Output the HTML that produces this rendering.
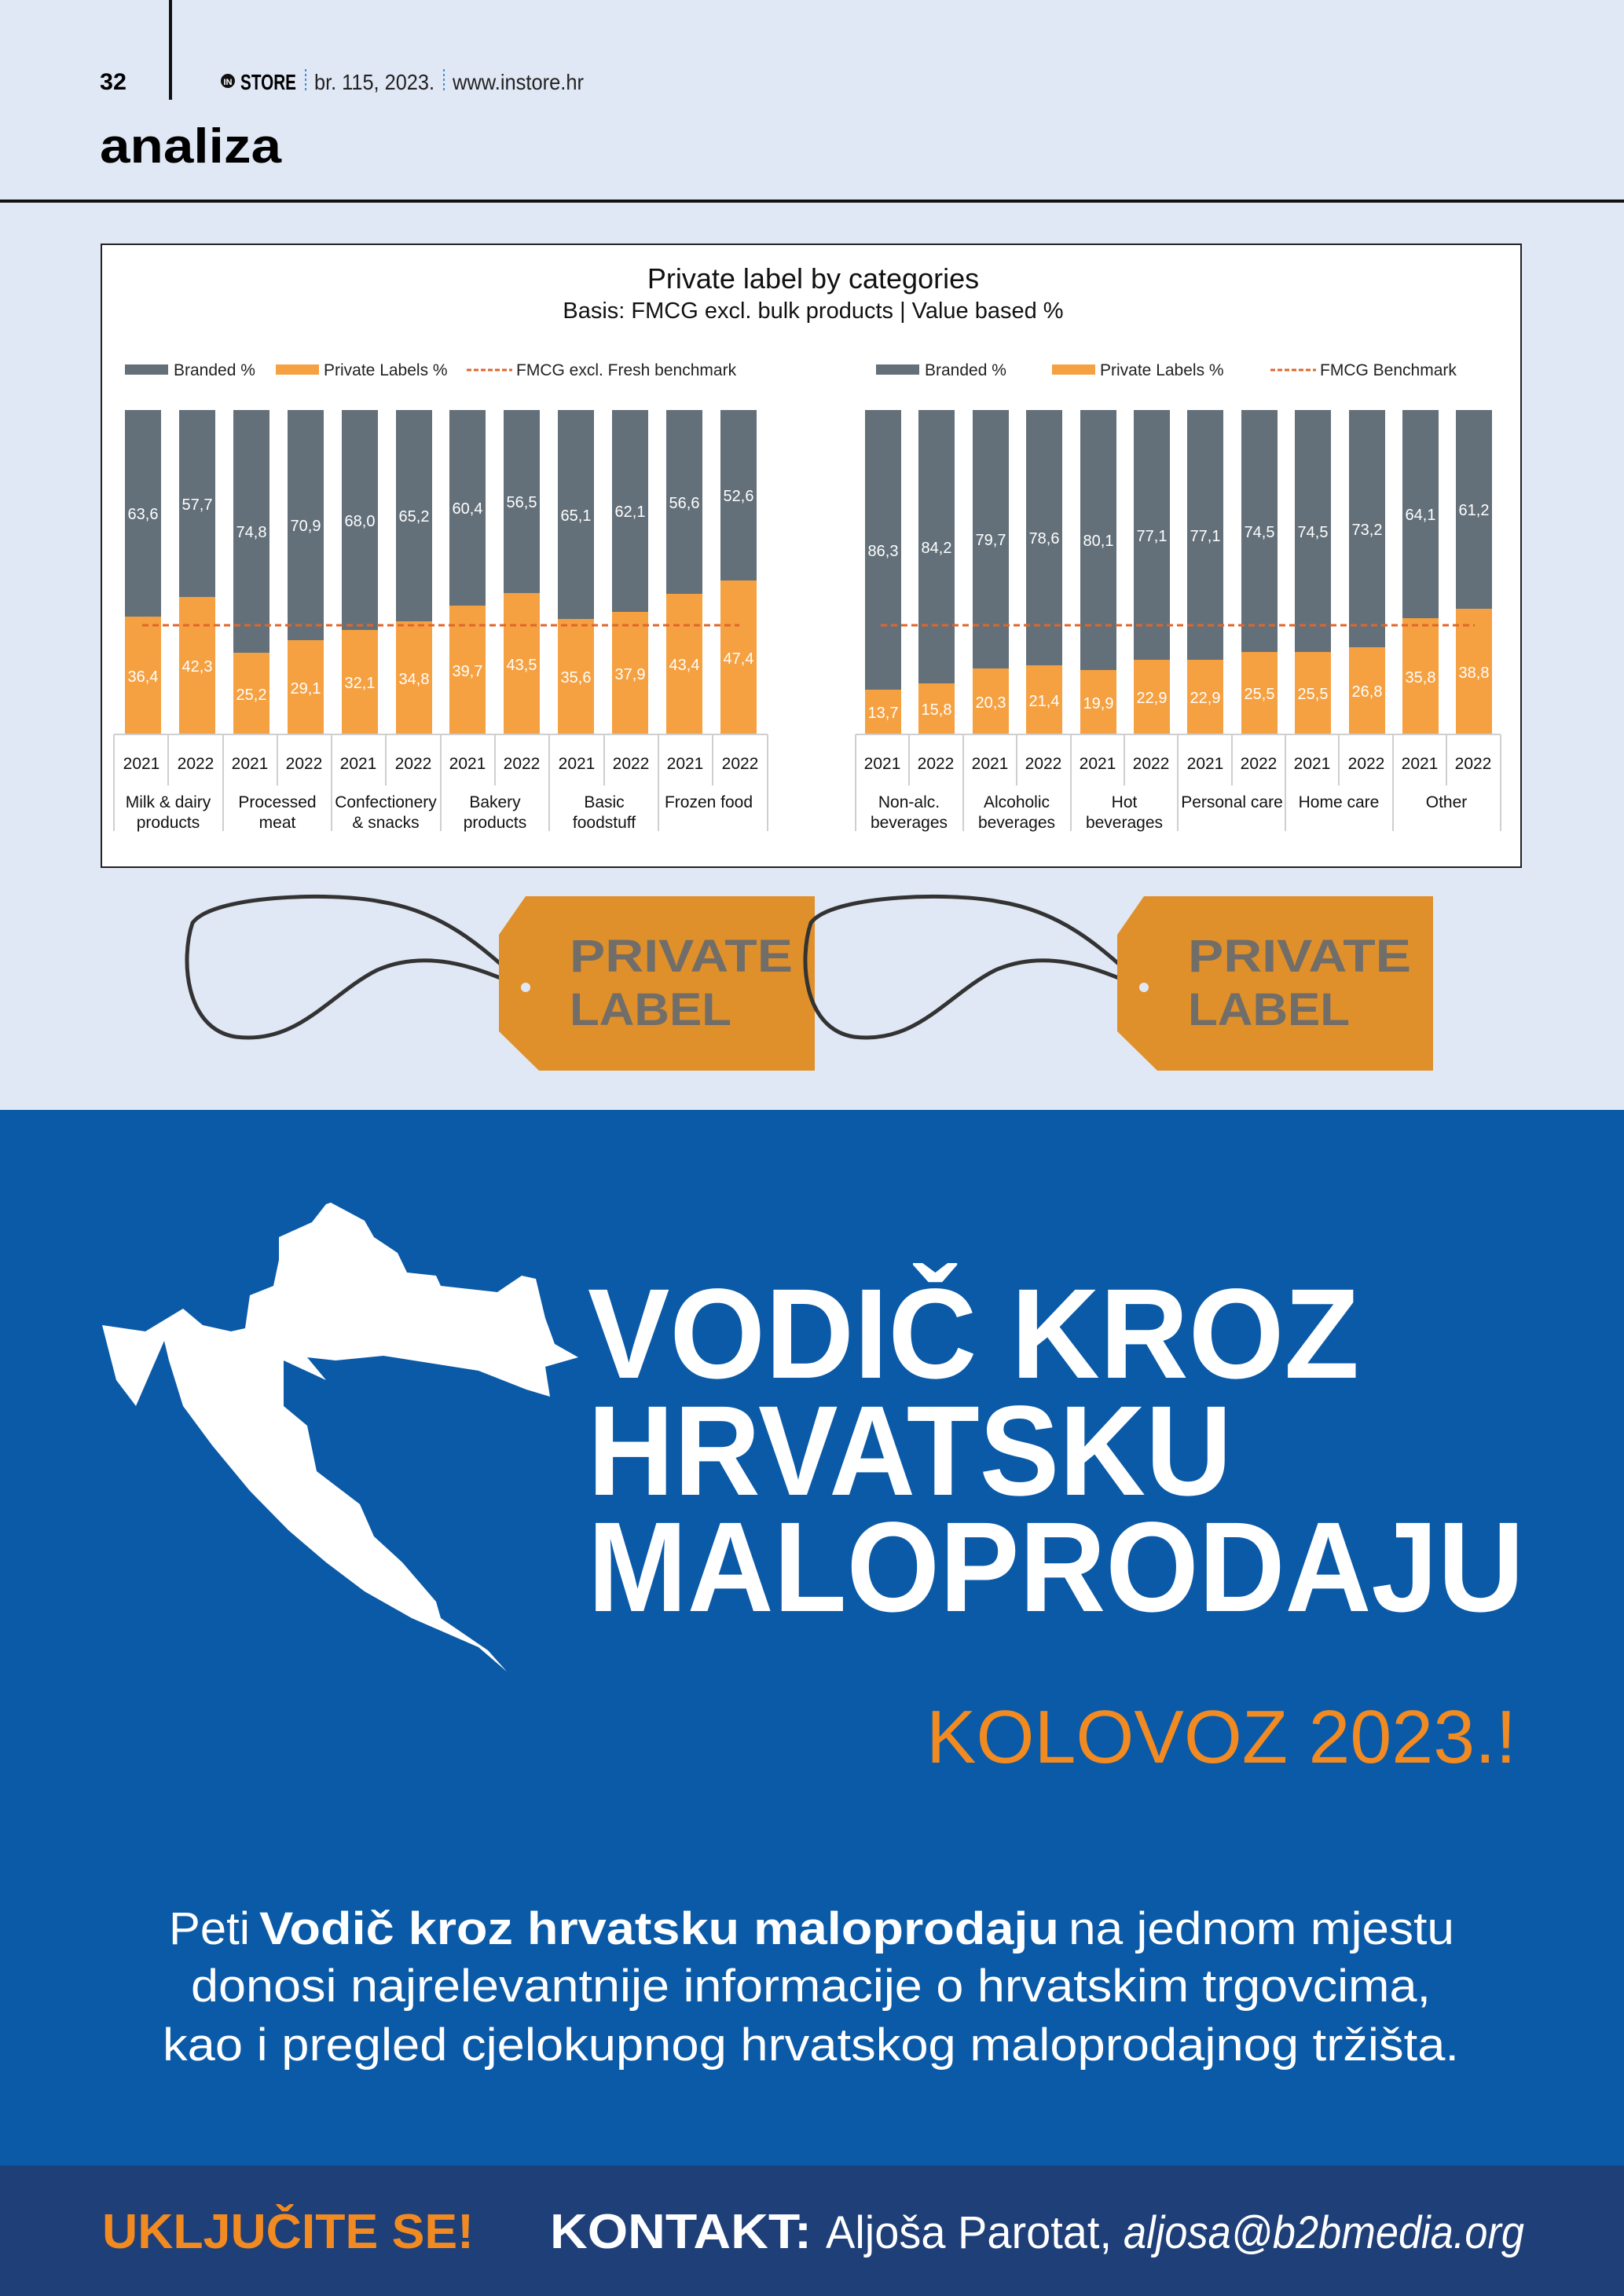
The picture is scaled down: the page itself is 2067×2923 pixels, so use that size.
<!DOCTYPE html>
<html><head><meta charset="utf-8"><style>html,body{margin:0;padding:0;}svg{display:block;}</style></head>
<body>
<svg xmlns="http://www.w3.org/2000/svg" width="2067" height="2923" viewBox="0 0 2067 2923" font-family="Liberation Sans, sans-serif">
<rect x="0" y="0" width="2067" height="1413" fill="#e1e8f5"/>
<rect x="0" y="1413" width="2067" height="1344" fill="#0a5aa8"/>
<rect x="0" y="2757" width="2067" height="166" fill="#1e3f78"/>

<!-- header -->
<text x="127" y="114" font-size="30" font-weight="bold" textLength="34" lengthAdjust="spacingAndGlyphs">32</text>
<rect x="215" y="0" width="4" height="127" fill="#111"/>
<circle cx="290" cy="103" r="9" fill="#111"/><text x="290" y="108" font-size="11" fill="#fff" text-anchor="middle" font-weight="bold">IN</text>
<text x="306" y="114" font-size="28" font-weight="bold" textLength="71" lengthAdjust="spacingAndGlyphs">STORE</text>
<line x1="389" y1="88" x2="389" y2="116" stroke="#3a8fd8" stroke-width="2" stroke-dasharray="3,3"/>
<text x="400" y="114" font-size="28" fill="#222" textLength="153" lengthAdjust="spacingAndGlyphs">br. 115, 2023.</text>
<line x1="565" y1="88" x2="565" y2="116" stroke="#3a8fd8" stroke-width="2" stroke-dasharray="3,3"/>
<text x="576" y="114" font-size="28" fill="#222" textLength="167" lengthAdjust="spacingAndGlyphs">www.instore.hr</text>
<text x="127" y="207" font-size="62" font-weight="bold" textLength="231" lengthAdjust="spacingAndGlyphs">analiza</text>
<rect x="0" y="254" width="2067" height="4" fill="#111"/>

<!-- chart box -->
<rect x="129" y="311" width="1807" height="793" fill="#fff" stroke="#222" stroke-width="2"/>
<text x="1035" y="367" font-size="36" text-anchor="middle" fill="#111">Private label by categories</text>
<text x="1035" y="405" font-size="29" text-anchor="middle" fill="#111">Basis: FMCG excl. bulk products | Value based %</text>

<g font-size="21" fill="#222">
<rect x="159" y="464" width="55" height="13" fill="#637079"/><text x="221" y="478">Branded %</text>
<rect x="351" y="464" width="55" height="13" fill="#f5a142"/><text x="412" y="478">Private Labels %</text>
<line x1="594" y1="471" x2="652" y2="471" stroke="#e0662a" stroke-width="3" stroke-dasharray="6,3"/><text x="657" y="478">FMCG excl. Fresh benchmark</text>
<rect x="1115" y="464" width="55" height="13" fill="#637079"/><text x="1177" y="478">Branded %</text>
<rect x="1339" y="464" width="55" height="13" fill="#f5a142"/><text x="1400" y="478">Private Labels %</text>
<line x1="1617" y1="471" x2="1675" y2="471" stroke="#e0662a" stroke-width="3" stroke-dasharray="6,3"/><text x="1680" y="478">FMCG Benchmark</text>
</g>

<g id="bars" font-size="20" fill="#fff" text-anchor="middle">
<rect x="159" y="522" width="46" height="263" fill="#637079"/><rect x="159" y="785" width="46" height="150" fill="#f5a142"/><text x="182" y="661">63,6</text><text x="182" y="868">36,4</text>
<rect x="228" y="522" width="46" height="238" fill="#637079"/><rect x="228" y="760" width="46" height="175" fill="#f5a142"/><text x="251" y="649">57,7</text><text x="251" y="855">42,3</text>
<rect x="297" y="522" width="46" height="309" fill="#637079"/><rect x="297" y="831" width="46" height="104" fill="#f5a142"/><text x="320" y="684">74,8</text><text x="320" y="891">25,2</text>
<rect x="366" y="522" width="46" height="293" fill="#637079"/><rect x="366" y="815" width="46" height="120" fill="#f5a142"/><text x="389" y="676">70,9</text><text x="389" y="883">29,1</text>
<rect x="435" y="522" width="46" height="280" fill="#637079"/><rect x="435" y="802" width="46" height="133" fill="#f5a142"/><text x="458" y="670">68,0</text><text x="458" y="876">32,1</text>
<rect x="504" y="522" width="46" height="269" fill="#637079"/><rect x="504" y="791" width="46" height="144" fill="#f5a142"/><text x="527" y="664">65,2</text><text x="527" y="871">34,8</text>
<rect x="572" y="522" width="46" height="249" fill="#637079"/><rect x="572" y="771" width="46" height="164" fill="#f5a142"/><text x="595" y="654">60,4</text><text x="595" y="861">39,7</text>
<rect x="641" y="522" width="46" height="233" fill="#637079"/><rect x="641" y="755" width="46" height="180" fill="#f5a142"/><text x="664" y="646">56,5</text><text x="664" y="853">43,5</text>
<rect x="710" y="522" width="46" height="266" fill="#637079"/><rect x="710" y="788" width="46" height="147" fill="#f5a142"/><text x="733" y="663">65,1</text><text x="733" y="869">35,6</text>
<rect x="779" y="522" width="46" height="257" fill="#637079"/><rect x="779" y="779" width="46" height="156" fill="#f5a142"/><text x="802" y="658">62,1</text><text x="802" y="865">37,9</text>
<rect x="848" y="522" width="46" height="234" fill="#637079"/><rect x="848" y="756" width="46" height="179" fill="#f5a142"/><text x="871" y="647">56,6</text><text x="871" y="853">43,4</text>
<rect x="917" y="522" width="46" height="217" fill="#637079"/><rect x="917" y="739" width="46" height="196" fill="#f5a142"/><text x="940" y="638">52,6</text><text x="940" y="845">47,4</text>
<rect x="1101" y="522" width="46" height="356" fill="#637079"/><rect x="1101" y="878" width="46" height="57" fill="#f5a142"/><text x="1124" y="708">86,3</text><text x="1124" y="914">13,7</text>
<rect x="1169" y="522" width="46" height="348" fill="#637079"/><rect x="1169" y="870" width="46" height="65" fill="#f5a142"/><text x="1192" y="704">84,2</text><text x="1192" y="910">15,8</text>
<rect x="1238" y="522" width="46" height="329" fill="#637079"/><rect x="1238" y="851" width="46" height="84" fill="#f5a142"/><text x="1261" y="694">79,7</text><text x="1261" y="901">20,3</text>
<rect x="1306" y="522" width="46" height="325" fill="#637079"/><rect x="1306" y="847" width="46" height="88" fill="#f5a142"/><text x="1329" y="692">78,6</text><text x="1329" y="899">21,4</text>
<rect x="1375" y="522" width="46" height="331" fill="#637079"/><rect x="1375" y="853" width="46" height="82" fill="#f5a142"/><text x="1398" y="695">80,1</text><text x="1398" y="902">19,9</text>
<rect x="1443" y="522" width="46" height="318" fill="#637079"/><rect x="1443" y="840" width="46" height="95" fill="#f5a142"/><text x="1466" y="689">77,1</text><text x="1466" y="895">22,9</text>
<rect x="1511" y="522" width="46" height="318" fill="#637079"/><rect x="1511" y="840" width="46" height="95" fill="#f5a142"/><text x="1534" y="689">77,1</text><text x="1534" y="895">22,9</text>
<rect x="1580" y="522" width="46" height="308" fill="#637079"/><rect x="1580" y="830" width="46" height="105" fill="#f5a142"/><text x="1603" y="684">74,5</text><text x="1603" y="890">25,5</text>
<rect x="1648" y="522" width="46" height="308" fill="#637079"/><rect x="1648" y="830" width="46" height="105" fill="#f5a142"/><text x="1671" y="684">74,5</text><text x="1671" y="890">25,5</text>
<rect x="1717" y="522" width="46" height="302" fill="#637079"/><rect x="1717" y="824" width="46" height="111" fill="#f5a142"/><text x="1740" y="681">73,2</text><text x="1740" y="887">26,8</text>
<rect x="1785" y="522" width="46" height="265" fill="#637079"/><rect x="1785" y="787" width="46" height="148" fill="#f5a142"/><text x="1808" y="662">64,1</text><text x="1808" y="869">35,8</text>
<rect x="1853" y="522" width="46" height="253" fill="#637079"/><rect x="1853" y="775" width="46" height="160" fill="#f5a142"/><text x="1876" y="656">61,2</text><text x="1876" y="863">38,8</text>
</g>
<line x1="181" y1="796" x2="941" y2="796" stroke="#e0662a" stroke-width="3" stroke-dasharray="8,5"/>
<line x1="1121" y1="796" x2="1877" y2="796" stroke="#e0662a" stroke-width="3" stroke-dasharray="8,5"/>

<g stroke="#cfcfcf" stroke-width="2">
<line x1="145" y1="935" x2="977" y2="935"/>
<line x1="1089" y1="935" x2="1910" y2="935"/>
<line x1="145" y1="935" x2="145" y2="1058"/><line x1="284" y1="935" x2="284" y2="1058"/><line x1="422" y1="935" x2="422" y2="1058"/><line x1="561" y1="935" x2="561" y2="1058"/><line x1="699" y1="935" x2="699" y2="1058"/><line x1="838" y1="935" x2="838" y2="1058"/><line x1="977" y1="935" x2="977" y2="1058"/>
<line x1="214" y1="935" x2="214" y2="1000"/><line x1="353" y1="935" x2="353" y2="1000"/><line x1="491" y1="935" x2="491" y2="1000"/><line x1="630" y1="935" x2="630" y2="1000"/><line x1="769" y1="935" x2="769" y2="1000"/><line x1="907" y1="935" x2="907" y2="1000"/>
<line x1="1089" y1="935" x2="1089" y2="1058"/><line x1="1226" y1="935" x2="1226" y2="1058"/><line x1="1363" y1="935" x2="1363" y2="1058"/><line x1="1499" y1="935" x2="1499" y2="1058"/><line x1="1636" y1="935" x2="1636" y2="1058"/><line x1="1773" y1="935" x2="1773" y2="1058"/><line x1="1910" y1="935" x2="1910" y2="1058"/>
<line x1="1157" y1="935" x2="1157" y2="1000"/><line x1="1294" y1="935" x2="1294" y2="1000"/><line x1="1431" y1="935" x2="1431" y2="1000"/><line x1="1568" y1="935" x2="1568" y2="1000"/><line x1="1704" y1="935" x2="1704" y2="1000"/><line x1="1841" y1="935" x2="1841" y2="1000"/>
</g>
<g font-size="21" fill="#111" text-anchor="middle">
<text x="180" y="979">2021</text><text x="249" y="979">2022</text><text x="318" y="979">2021</text><text x="387" y="979">2022</text><text x="456" y="979">2021</text><text x="526" y="979">2022</text><text x="595" y="979">2021</text><text x="664" y="979">2022</text><text x="734" y="979">2021</text><text x="803" y="979">2022</text><text x="872" y="979">2021</text><text x="942" y="979">2022</text>
<text x="1123" y="979">2021</text><text x="1191" y="979">2022</text><text x="1260" y="979">2021</text><text x="1328" y="979">2022</text><text x="1397" y="979">2021</text><text x="1465" y="979">2022</text><text x="1534" y="979">2021</text><text x="1602" y="979">2022</text><text x="1670" y="979">2021</text><text x="1739" y="979">2022</text><text x="1807" y="979">2021</text><text x="1875" y="979">2022</text>
<text x="214" y="1028">Milk &amp; dairy</text><text x="214" y="1054">products</text>
<text x="353" y="1028">Processed</text><text x="353" y="1054">meat</text>
<text x="491" y="1028">Confectionery</text><text x="491" y="1054">&amp; snacks</text>
<text x="630" y="1028">Bakery</text><text x="630" y="1054">products</text>
<text x="769" y="1028">Basic</text><text x="769" y="1054">foodstuff</text>
<text x="902" y="1028">Frozen food</text>
<text x="1157" y="1028">Non-alc.</text><text x="1157" y="1054">beverages</text>
<text x="1294" y="1028">Alcoholic</text><text x="1294" y="1054">beverages</text>
<text x="1431" y="1028">Hot</text><text x="1431" y="1054">beverages</text>
<text x="1568" y="1028">Personal care</text>
<text x="1704" y="1028">Home care</text>
<text x="1841" y="1028">Other</text>
</g>

<g id="tag">
<path d="M669,1257 C640,1250 560,1200 480,1235 C420,1265 380,1330 300,1320 C235,1310 230,1220 245,1175 C270,1140 420,1135 485,1148 C560,1160 610,1200 669,1257" fill="none" stroke="#333" stroke-width="5"/>
<polygon points="669,1141 1037,1141 1037,1363 686,1363 635,1313 635,1190" fill="#e0902a"/>
<circle cx="669" cy="1257" r="6" fill="#e1e8f5"/>
<text x="725" y="1237" font-size="58" font-weight="bold" fill="#716d69" textLength="284" lengthAdjust="spacingAndGlyphs">PRIVATE</text>
<text x="725" y="1305" font-size="58" font-weight="bold" fill="#716d69" textLength="206" lengthAdjust="spacingAndGlyphs">LABEL</text>
</g>
<use href="#tag" x="787" y="0"/>

<polygon fill="#fff" points="421,1531 464,1554 476,1575 506,1595 518,1620 555,1624 561,1637 633,1645 664,1624 682,1628 694,1678 706,1711 736,1728 694,1740 700,1778 670,1769 609,1745 488,1726 427,1732 391,1728 415,1757 361,1732 361,1790 391,1815 403,1873 458,1915 476,1956 512,1989 555,2039 561,2060 621,2101 645,2128 609,2097 524,2060 464,2026 415,1989 367,1948 318,1898 270,1840 233,1790 215,1732 209,1707 173,1790 148,1757 130,1687 185,1695 233,1666 258,1687 294,1695 312,1691 318,1649 348,1637 355,1604 355,1575 397,1556 415,1533"/>

<g fill="#fff" font-weight="bold" font-size="163">
<text x="748" y="1754" textLength="982" lengthAdjust="spacingAndGlyphs">VODIČ KROZ</text>
<text x="748" y="1903" textLength="820" lengthAdjust="spacingAndGlyphs">HRVATSKU</text>
<text x="748" y="2051" textLength="1192" lengthAdjust="spacingAndGlyphs">MALOPRODAJU</text>
</g>
<text x="1179" y="2244" font-size="96" fill="#f28a22" textLength="751" lengthAdjust="spacingAndGlyphs">KOLOVOZ 2023.!</text>

<g fill="#fff" font-size="58">
<text x="215" y="2475" textLength="103" lengthAdjust="spacingAndGlyphs">Peti</text>
<text x="330" y="2475" font-weight="bold" textLength="1018" lengthAdjust="spacingAndGlyphs">Vodič kroz hrvatsku maloprodaju</text>
<text x="1360" y="2475" textLength="491" lengthAdjust="spacingAndGlyphs">na jednom mjestu</text>
<text x="243" y="2548" textLength="1578" lengthAdjust="spacingAndGlyphs">donosi najrelevantnije informacije o hrvatskim trgovcima,</text>
<text x="207" y="2623" textLength="1650" lengthAdjust="spacingAndGlyphs">kao i pregled cjelokupnog hrvatskog maloprodajnog tržišta.</text>
</g>

<text x="130" y="2862" font-size="62" font-weight="bold" fill="#f28a22" textLength="473" lengthAdjust="spacingAndGlyphs">UKLJUČITE SE!</text>
<text x="700" y="2862" font-size="62" font-weight="bold" fill="#fff" textLength="333" lengthAdjust="spacingAndGlyphs">KONTAKT:</text>
<text x="1051" y="2862" font-size="58" fill="#fff" textLength="364" lengthAdjust="spacingAndGlyphs">Aljoša Parotat,</text>
<text x="1430" y="2862" font-size="58" font-style="italic" fill="#fff" textLength="510" lengthAdjust="spacingAndGlyphs">aljosa@b2bmedia.org</text>
</svg>
</body></html>
